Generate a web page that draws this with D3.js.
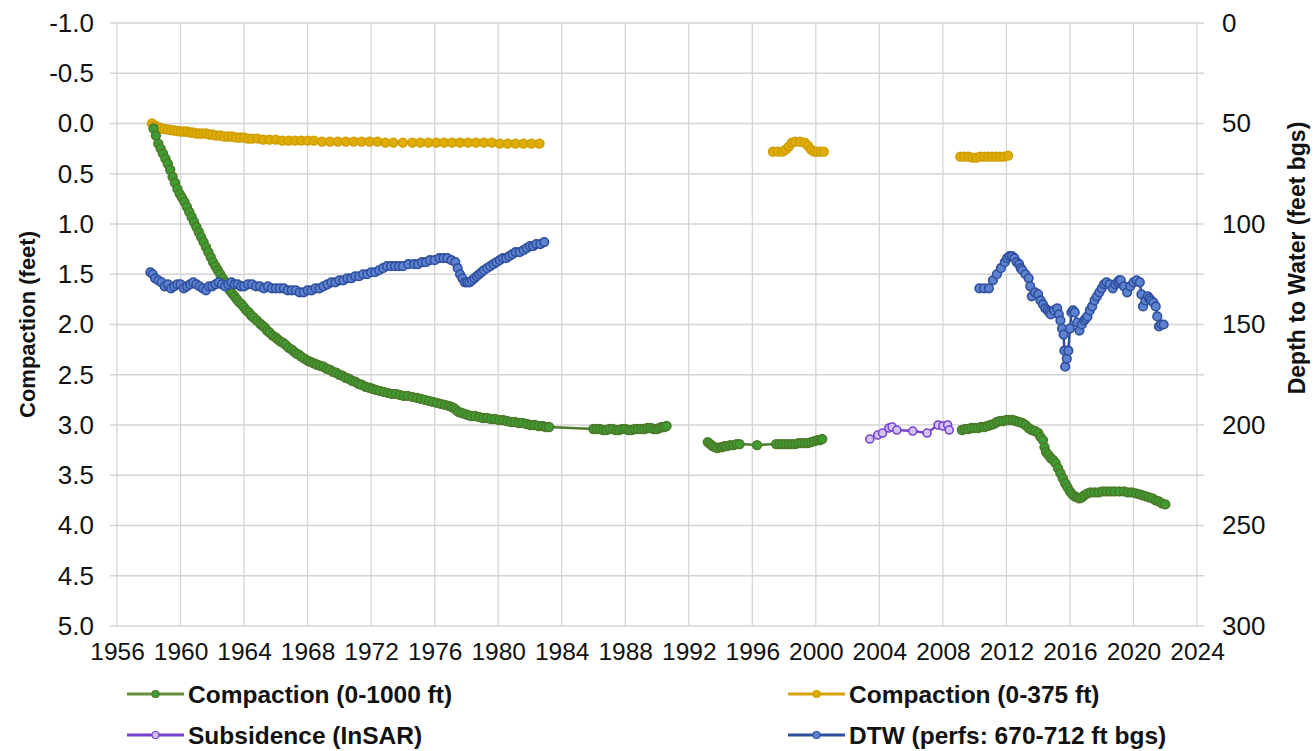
<!DOCTYPE html>
<html>
<head>
<meta charset="utf-8">
<script src="https://cdn.jsdelivr.net/npm/d3@7"></script>
<style>
  body { margin: 0; background: #fff; }
  text { font-family: "Liberation Sans", Arial, sans-serif; fill: #111; }
</style>
</head>
<body>
<div class="graph"></div>
<script>
// Tick labels
const yearTicks = d3.range(1956, 2025, 4);
const compactionTicks = d3.range(-1, 5.001, 0.5);
const dtwTicks = [0, 50, 100, 150, 200, 250, 300];

// Series: [decimal year, value], null value = gap in record
const compaction1000 = [
  [1958.3, 0.05], [1958.45, 0.12], [1958.6, 0.20], [1958.75, 0.25], [1958.9, 0.30], [1959.05, 0.35],
  [1959.2, 0.40], [1959.35, 0.46], [1959.5, 0.53], [1959.65, 0.59], [1959.8, 0.65], [1959.95, 0.70],
  [1960.1, 0.74], [1960.25, 0.78], [1960.4, 0.83], [1960.55, 0.88], [1960.7, 0.93], [1960.85, 0.98],
  [1961.0, 1.03], [1961.15, 1.08], [1961.3, 1.13], [1961.45, 1.18], [1961.6, 1.23], [1961.75, 1.28],
  [1961.9, 1.33], [1962.05, 1.38], [1962.2, 1.42], [1962.35, 1.46], [1962.5, 1.50], [1962.65, 1.54],
  [1962.8, 1.58], [1962.95, 1.62], [1963.1, 1.66], [1963.25, 1.69], [1963.4, 1.72], [1963.55, 1.75],
  [1963.7, 1.78], [1963.85, 1.80], [1964.0, 1.83], [1964.15, 1.86], [1964.3, 1.88], [1964.45, 1.91],
  [1964.6, 1.93], [1964.8, 1.96], [1965.0, 1.99], [1965.15, 2.01], [1965.3, 2.03], [1965.45, 2.06],
  [1965.6, 2.08], [1965.8, 2.11], [1966.0, 2.13], [1966.15, 2.15], [1966.3, 2.17], [1966.45, 2.18],
  [1966.6, 2.20], [1966.8, 2.23], [1967.0, 2.25], [1967.15, 2.27], [1967.3, 2.29], [1967.45, 2.30],
  [1967.6, 2.32], [1967.8, 2.34], [1968.0, 2.36], [1968.15, 2.37], [1968.3, 2.38], [1968.45, 2.39],
  [1968.6, 2.40], [1968.8, 2.41], [1969.0, 2.42], [1969.2, 2.44], [1969.4, 2.45], [1969.6, 2.47],
  [1969.8, 2.48], [1970.0, 2.50], [1970.2, 2.51], [1970.4, 2.53], [1970.6, 2.54], [1970.8, 2.56],
  [1971.0, 2.57], [1971.2, 2.59], [1971.4, 2.60], [1971.65, 2.62], [1971.9, 2.63], [1972.1, 2.64],
  [1972.3, 2.65], [1972.55, 2.66], [1972.8, 2.67], [1973.05, 2.68], [1973.3, 2.69], [1973.55, 2.69],
  [1973.8, 2.70], [1974.05, 2.71], [1974.3, 2.71], [1974.6, 2.72], [1974.9, 2.73], [1975.15, 2.74],
  [1975.4, 2.75], [1975.65, 2.76], [1975.9, 2.77], [1976.15, 2.78], [1976.4, 2.79], [1976.65, 2.80],
  [1976.9, 2.81], [1977.05, 2.82], [1977.2, 2.83], [1977.35, 2.85], [1977.5, 2.87], [1977.7, 2.88],
  [1977.9, 2.89], [1978.1, 2.90], [1978.3, 2.91], [1978.55, 2.91], [1978.8, 2.92], [1979.05, 2.93],
  [1979.3, 2.93], [1979.55, 2.94], [1979.8, 2.94], [1980.05, 2.95], [1980.3, 2.95], [1980.55, 2.96],
  [1980.8, 2.97], [1981.05, 2.97], [1981.3, 2.98], [1981.55, 2.98], [1981.8, 2.99], [1982.05, 3.00],
  [1982.3, 3.00], [1982.55, 3.01], [1982.8, 3.01], [1983.0, 3.02], [1983.2, 3.02],
  [1986.0, 3.04], [1986.2, 3.04], [1986.4, 3.04], [1986.6, 3.05], [1986.8, 3.05], [1987.0, 3.04],
  [1987.2, 3.04], [1987.4, 3.05], [1987.6, 3.05], [1987.8, 3.04], [1988.0, 3.04], [1988.2, 3.05],
  [1988.4, 3.05], [1988.6, 3.04], [1988.8, 3.04], [1989.0, 3.04], [1989.2, 3.04], [1989.4, 3.03],
  [1989.6, 3.03], [1989.8, 3.04], [1990.0, 3.04], [1990.15, 3.03], [1990.3, 3.02], [1990.45, 3.02],
  [1990.6, 3.01], [1991.5, null],
  [1993.2, 3.17], [1993.35, 3.19], [1993.5, 3.21], [1993.65, 3.22], [1993.8, 3.23], [1994.0, 3.22],
  [1994.1, 3.22], [1994.25, 3.21], [1994.4, 3.21], [1994.6, 3.20], [1994.8, 3.20], [1995.0, 3.19],
  [1995.2, 3.19], [1996.3, 3.20], [1997.5, 3.19], [1997.7, 3.19], [1997.9, 3.19], [1998.1, 3.19],
  [1998.3, 3.19], [1998.5, 3.19], [1998.7, 3.19], [1998.9, 3.18], [1999.1, 3.18], [1999.3, 3.18],
  [1999.5, 3.18], [1999.7, 3.17], [1999.9, 3.16], [2000.1, 3.15], [2000.25, 3.15], [2000.4, 3.14],
  [2004.0, null],
  [2009.2, 3.05], [2009.4, 3.04], [2009.6, 3.04], [2009.8, 3.03], [2010.0, 3.03], [2010.2, 3.03],
  [2010.4, 3.02], [2010.6, 3.02], [2010.8, 3.01], [2011.0, 3.00], [2011.2, 2.99], [2011.4, 2.97],
  [2011.6, 2.96], [2011.8, 2.96], [2012.0, 2.95], [2012.2, 2.95], [2012.4, 2.95], [2012.6, 2.96],
  [2012.8, 2.97], [2013.0, 2.98], [2013.2, 3.00], [2013.4, 3.03], [2013.6, 3.05], [2013.8, 3.06],
  [2014.0, 3.08], [2014.15, 3.12], [2014.3, 3.15], [2014.4, 3.22], [2014.5, 3.27], [2014.65, 3.30],
  [2014.8, 3.33], [2014.95, 3.35], [2015.1, 3.38], [2015.25, 3.43], [2015.4, 3.48], [2015.55, 3.53],
  [2015.7, 3.58], [2015.85, 3.62], [2016.0, 3.66], [2016.15, 3.69], [2016.3, 3.71], [2016.45, 3.72],
  [2016.6, 3.73], [2016.75, 3.72], [2016.9, 3.70], [2017.1, 3.68], [2017.3, 3.67], [2017.55, 3.67],
  [2017.8, 3.67], [2018.05, 3.66], [2018.3, 3.66], [2018.55, 3.66], [2018.8, 3.66], [2019.1, 3.66],
  [2019.4, 3.66], [2019.65, 3.67], [2019.9, 3.67], [2020.15, 3.68], [2020.4, 3.69], [2020.6, 3.70],
  [2020.8, 3.71], [2021.0, 3.72], [2021.2, 3.73], [2021.4, 3.75], [2021.6, 3.76], [2021.8, 3.78],
  [2022.0, 3.79]
];

const compaction375 = [
  [1958.2, 0.00], [1958.35, 0.02], [1958.5, 0.03], [1958.65, 0.04], [1958.8, 0.05], [1959.0, 0.055],
  [1959.2, 0.06], [1959.4, 0.065], [1959.6, 0.07], [1959.8, 0.075], [1960.0, 0.08], [1960.2, 0.08],
  [1960.4, 0.08], [1960.6, 0.09], [1960.8, 0.09], [1961.0, 0.10], [1961.2, 0.10], [1961.4, 0.10],
  [1961.6, 0.10], [1961.8, 0.11], [1962.0, 0.11], [1962.25, 0.12], [1962.5, 0.12], [1962.75, 0.13],
  [1963.0, 0.13], [1963.25, 0.13], [1963.5, 0.14], [1963.75, 0.14], [1964.0, 0.14], [1964.25, 0.15],
  [1964.5, 0.15], [1964.85, 0.15], [1965.2, 0.16], [1965.6, 0.16], [1966.0, 0.16], [1966.4, 0.17],
  [1966.8, 0.17], [1967.2, 0.17], [1967.6, 0.17], [1968.0, 0.17], [1968.4, 0.17], [1968.9, 0.18],
  [1969.4, 0.18], [1969.9, 0.18], [1970.4, 0.18], [1970.9, 0.18], [1971.4, 0.18], [1971.9, 0.18],
  [1972.4, 0.18], [1972.9, 0.19], [1973.4, 0.19], [1974.0, 0.19], [1974.6, 0.19], [1975.1, 0.19],
  [1975.6, 0.19], [1976.1, 0.19], [1976.6, 0.19], [1977.1, 0.19], [1977.6, 0.19], [1978.1, 0.19],
  [1978.6, 0.19], [1979.1, 0.19], [1979.6, 0.19], [1980.1, 0.20], [1980.6, 0.20], [1981.1, 0.20],
  [1981.6, 0.20], [1982.1, 0.20], [1982.6, 0.20], [1990.0, null],
  [1997.3, 0.28], [1997.6, 0.28], [1997.9, 0.28], [1998.1, 0.26], [1998.3, 0.23], [1998.5, 0.19],
  [1998.7, 0.18], [1999.0, 0.18], [1999.3, 0.19], [1999.5, 0.22], [1999.7, 0.26], [1999.9, 0.28],
  [2000.1, 0.28], [2000.3, 0.28], [2000.5, 0.28], [2005.0, null],
  [2009.1, 0.33], [2009.35, 0.33], [2009.6, 0.33], [2009.85, 0.34], [2010.1, 0.34], [2010.35, 0.33],
  [2010.6, 0.33], [2010.85, 0.33], [2011.1, 0.33], [2011.35, 0.33], [2011.6, 0.33], [2011.85, 0.33],
  [2012.1, 0.32]
];

const subsidenceInsar = [
  [2003.4, 3.14], [2003.9, 3.10], [2004.2, 3.08], [2004.6, 3.03], [2004.8, 3.02], [2005.1, 3.05],
  [2006.1, 3.06], [2007.0, 3.08], [2007.7, 3.00], [2008.0, 3.01], [2008.3, 3.00], [2008.4, 3.05]
];

const depthToWater = [
  [1958.1, 124], [1958.25, 125], [1958.4, 127], [1958.6, 128], [1958.8, 129], [1959.0, 131],
  [1959.2, 130], [1959.4, 132], [1959.6, 131], [1959.8, 130], [1960.0, 130], [1960.2, 132],
  [1960.4, 131], [1960.6, 130], [1960.8, 129], [1961.0, 130], [1961.2, 131], [1961.4, 132],
  [1961.6, 133], [1961.8, 131], [1962.0, 131], [1962.2, 130], [1962.4, 129], [1962.6, 130],
  [1962.8, 131], [1963.0, 130], [1963.2, 129], [1963.4, 130], [1963.6, 130], [1963.8, 131],
  [1964.0, 131], [1964.25, 130], [1964.5, 130], [1964.75, 131], [1965.0, 131], [1965.25, 132],
  [1965.5, 131], [1965.75, 132], [1966.0, 132], [1966.25, 132], [1966.5, 132], [1966.75, 133],
  [1967.0, 133], [1967.25, 133], [1967.5, 134], [1967.75, 134], [1968.0, 133], [1968.25, 133],
  [1968.5, 132], [1968.75, 132], [1969.0, 131], [1969.25, 130], [1969.5, 129], [1969.75, 129],
  [1970.0, 128], [1970.25, 128], [1970.5, 127], [1970.75, 127], [1971.0, 126], [1971.25, 126],
  [1971.5, 125], [1971.75, 125], [1972.0, 124], [1972.25, 124], [1972.5, 123], [1972.75, 122],
  [1973.0, 121], [1973.25, 121], [1973.5, 121], [1973.75, 121], [1974.0, 121], [1974.35, 120],
  [1974.7, 120], [1974.95, 120], [1975.2, 119], [1975.45, 119], [1975.7, 118], [1976.0, 118],
  [1976.3, 117], [1976.55, 117], [1976.8, 117], [1977.05, 118], [1977.3, 119], [1977.45, 122],
  [1977.6, 125], [1977.75, 127], [1977.9, 129], [1978.05, 129], [1978.2, 129], [1978.35, 128],
  [1978.5, 127], [1978.65, 126], [1978.8, 125], [1978.95, 124], [1979.1, 123], [1979.3, 122],
  [1979.5, 121], [1979.7, 120], [1979.9, 119], [1980.1, 118], [1980.3, 117], [1980.5, 117],
  [1980.7, 116], [1980.9, 115], [1981.1, 114], [1981.35, 114], [1981.6, 113], [1981.8, 112],
  [1982.0, 111], [1982.2, 111], [1982.4, 110], [1982.65, 110], [1982.9, 109], [1995.0, null],
  [2010.3, 132], [2010.6, 132], [2010.9, 132], [2011.15, 128], [2011.4, 125], [2011.65, 122],
  [2011.9, 119], [2012.05, 117], [2012.2, 116], [2012.35, 116], [2012.5, 117], [2012.65, 119],
  [2012.8, 120], [2012.9, 122], [2013.0, 123], [2013.2, 125], [2013.4, 127], [2013.5, 131],
  [2013.6, 136], [2013.8, 134], [2014.0, 135], [2014.15, 138], [2014.3, 140], [2014.45, 142],
  [2014.6, 143], [2014.7, 144], [2014.8, 145], [2015.0, 143], [2015.2, 142], [2015.3, 145],
  [2015.4, 148], [2015.5, 152], [2015.6, 155], [2015.65, 163], [2015.7, 171], [2015.8, 167],
  [2015.9, 163], [2016.0, 152], [2016.1, 144], [2016.2, 143], [2016.3, 144], [2016.45, 149],
  [2016.6, 153], [2016.75, 150], [2016.9, 148], [2017.0, 147], [2017.1, 146], [2017.25, 143],
  [2017.4, 141], [2017.55, 138], [2017.7, 136], [2017.85, 134], [2018.0, 132], [2018.15, 130],
  [2018.3, 129], [2018.5, 130], [2018.7, 132], [2018.85, 130], [2019.0, 129], [2019.1, 128],
  [2019.2, 128], [2019.4, 131], [2019.6, 134], [2019.8, 131], [2020.0, 129], [2020.2, 128],
  [2020.4, 129], [2020.5, 135], [2020.6, 141], [2020.75, 138], [2020.9, 136], [2021.0, 137],
  [2021.1, 138], [2021.25, 139], [2021.4, 141], [2021.5, 146], [2021.6, 151], [2021.75, 150],
  [2021.9, 150]
];

const legendLabels = ["Compaction (0-1000 ft)", "Compaction (0-375 ft)", "Subsidence (InSAR)", "DTW (perfs: 670-712 ft bgs)"];

// Chart size
let width = 1314;
let height = 751;
let plot = { left: 117, right: 1197, top: 23, bottom: 626 };

let svg = d3.select(".graph").append("svg")
  .attr("width", width)
  .attr("height", height);

svg.append("rect").attr("width", width).attr("height", height).attr("fill", "#fff");

let x = d3.scaleLinear().domain([1956, 2024]).range([plot.left, plot.right]);
let yLeft = d3.scaleLinear().domain([-1, 5]).range([plot.top, plot.bottom]);
let yRight = d3.scaleLinear().domain([0, 300]).range([plot.top, plot.bottom]);

// Grid
let grid = svg.append("g").attr("stroke", "#d4d4d4").attr("stroke-width", 1.3);
grid.selectAll(".vgrid").data(yearTicks).join("line")
  .attr("x1", d => x(d)).attr("x2", d => x(d))
  .attr("y1", plot.top).attr("y2", plot.bottom);
grid.selectAll(".hgrid").data(compactionTicks).join("line")
  .attr("x1", plot.left - 7).attr("x2", plot.right + 7)
  .attr("y1", d => yLeft(d)).attr("y2", d => yLeft(d));

// Axes (labels only, grid drawn above)
let xAxis = svg.append("g")
  .attr("transform", "translate(0," + plot.bottom + ")")
  .call(d3.axisBottom(x).tickValues(yearTicks).tickFormat(d3.format("d")).tickSize(0).tickPadding(17));

let leftAxis = svg.append("g")
  .attr("transform", "translate(" + (plot.left - 23) + ",0)")
  .call(d3.axisLeft(yLeft).tickValues(compactionTicks).tickSize(0).tickPadding(0));

let rightAxis = svg.append("g")
  .attr("transform", "translate(" + (plot.right + 25) + ",0)")
  .call(d3.axisRight(yRight).tickValues(dtwTicks).tickSize(0).tickPadding(0));

[xAxis, leftAxis, rightAxis].forEach(a => {
  a.select(".domain").remove();
  a.selectAll("text").attr("font-family", "'Liberation Sans', Arial, sans-serif").attr("fill", "#111");
});
xAxis.selectAll("text").attr("font-size", 24.5);
leftAxis.selectAll("text").attr("font-size", 26).text(d => (Math.abs(d) < 1e-9 ? 0 : d).toFixed(1));
rightAxis.selectAll("text").attr("font-size", 26);

// Axis titles
svg.append("text")
  .attr("transform", "translate(35," + ((plot.top + plot.bottom) / 2) + ") rotate(-90)")
  .attr("text-anchor", "middle")
  .attr("font-weight", "bold").attr("font-size", 22)
  .text("Compaction (feet)");

svg.append("text")
  .attr("transform", "translate(1305,258) rotate(-90)")
  .attr("text-anchor", "middle")
  .attr("font-weight", "bold").attr("font-size", 23)
  .text("Depth to Water (feet bgs)");

// Series styles
let series = [
  { data: compaction375, y: yLeft, line: "#d6a30c", fill: "#dfae06", stroke: "#d09e00", r: 4.4 },
  { data: compaction1000, y: yLeft, line: "#4b7d2c", fill: "#3f9c30", stroke: "#4a7a2a", r: 4.4 },
  { data: subsidenceInsar, y: yLeft, line: "#7442cc", fill: "#d4c2f4", stroke: "#7444cc", r: 4 },
  { data: depthToWater, y: yRight, line: "#2d4f9e", fill: "#5d82cf", stroke: "#2e4f9e", r: 4.3 }
];

series.forEach(s => {
  let line = d3.line()
    .defined(d => d[1] !== null)
    .x(d => x(d[0]))
    .y(d => s.y(d[1]));

  svg.append("path")
    .datum(s.data)
    .attr("fill", "none")
    .attr("stroke", s.line)
    .attr("stroke-width", 2.5)
    .attr("d", line);

  svg.append("g").selectAll("circle")
    .data(s.data.filter(d => d[1] !== null))
    .join("circle")
    .attr("cx", d => x(d[0]))
    .attr("cy", d => s.y(d[1]))
    .attr("r", s.r)
    .attr("fill", s.fill)
    .attr("stroke", s.stroke)
    .attr("stroke-width", 1.6);
});

// Legend
let legendPos = [
  { x: 127, y: 694 }, { x: 788, y: 694 },
  { x: 127, y: 735 }, { x: 788, y: 735 }
];
let legendOrder = [1, 0, 2, 3];

let legend = svg.append("g").selectAll("g")
  .data(legendLabels)
  .join("g")
  .attr("transform", (d, i) => "translate(" + legendPos[i].x + "," + legendPos[i].y + ")");

legend.append("line")
  .attr("x1", 0).attr("x2", 57)
  .attr("stroke", (d, i) => i === 0 ? "#6a8f3a" : series[legendOrder[i]].line)
  .attr("stroke-width", 3);

legend.append("circle")
  .attr("cx", 28.5).attr("r", 3.5)
  .attr("fill", (d, i) => series[legendOrder[i]].fill)
  .attr("stroke", (d, i) => series[legendOrder[i]].stroke)
  .attr("stroke-width", 1.2);

legend.append("text")
  .attr("x", 61).attr("dy", "0.36em")
  .attr("font-weight", "bold").attr("font-size", 24.5)
  .text(d => d);
</script>
</body>
</html>
